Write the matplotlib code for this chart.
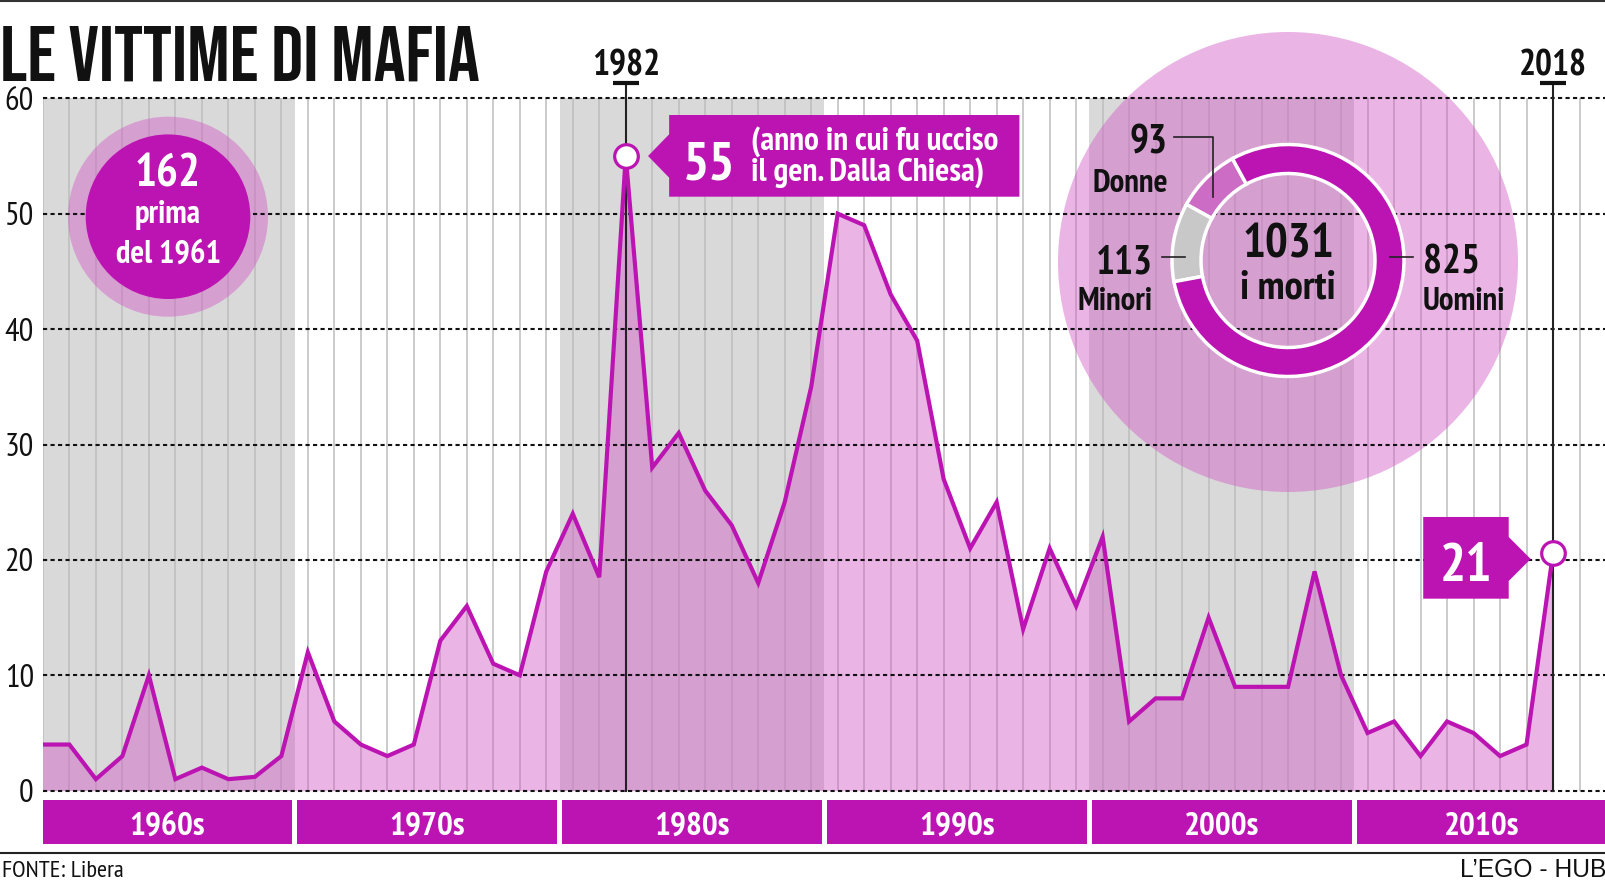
import numpy as np
import matplotlib
matplotlib.use('Agg')
import matplotlib.pyplot as plt
from matplotlib import font_manager
from matplotlib.font_manager import FontProperties
from matplotlib.textpath import TextPath
from matplotlib.patches import Circle, Polygon
from matplotlib.lines import Line2D

# vittime per anno, dal primo anno al 2018
vittime = [4, 4, 1, 3, 10, 1, 2, 1, 1.2, 3,
           12, 6, 4, 3, 4, 13, 16, 11, 10, 19,
           24, 18.5, 55, 28, 31, 26, 23, 18, 25, 35,
           50, 49, 43, 39, 27, 21, 25, 14, 21, 16,
           22, 6, 8, 8, 15, 9, 9, 9, 19, 10,
           5, 6, 3, 6, 5, 3, 4, 20.6]
decenni = ['1960s', '1970s', '1980s', '1990s', '2000s', '2010s']
anno_picco = '1982'
anno_ultimo = '2018'
nota_picco = ['(anno in cui fu ucciso', 'il gen. Dalla Chiesa)']
prima_1961 = 162
categorie = ['Donne', 'Minori', 'Uomini']
morti = [93, 113, 825]
titolo = 'LE VITTIME DI MAFIA'

MAG = '#BC14B2'
PINK = '#D159C6'
GRAY = '#D9D9D9'
INK = '#111111'
W, H = 1606, 884

fonts = font_manager.fontManager.ttflist
bold_fams = {f.name for f in fonts if f.weight in (700, 'bold')}
all_fams = {f.name for f in fonts}


def pick(names, pool):
    return next((n for n in names if n in pool), 'DejaVu Sans')


BODY = pick(['PT Sans Narrow', 'Archivo Narrow', 'Roboto Condensed', 'Asap Condensed',
             'Sofia Sans Condensed'], bold_fams)
plt.rcParams['font.family'] = [BODY, 'DejaVu Sans']

# titolo in un carattere stretto e pesante
TITLE = pick(['Bebas Neue', 'Anton', 'Fjalla One', 'Oswald'], all_fams)
ext = TextPath((0, 0), titolo, size=100,
               prop=FontProperties(family=TITLE, weight='bold')).get_extents()
title_fs = 475 * 72 / ext.width

fig = plt.figure(figsize=(W / 100, H / 100), dpi=100)
dst = fig.dpi_scale_trans
rend = fig.canvas.get_renderer()


def P(px, py):
    # pixel (dall'alto) -> pollici
    return (px / 100, (H - py) / 100)


def fit(t, w, others=()):
    # regola la dimensione del testo sulla larghezza letta nel riferimento
    bw = t.get_window_extent(rend).width
    fs = t.get_fontsize() * w / bw
    for o in (t,) + tuple(others):
        o.set_fontsize(fs)
    return fs


x0, y0, y60 = 42.9, 790.7, 98.3
ax = fig.add_axes([x0 / W, (H - y0) / H, (W - x0) / W, (y0 - y60) / H])
ax.set_xlim(0, 59)
ax.set_ylim(0, 60)
x = np.arange(len(vittime))

# fasce grigie dei decenni alterni
for k in (0, 2, 4):
    ax.axvspan(max(10 * k - 0.5, 0), 10 * k + 9.5, color=GRAY, lw=0, zorder=0)
ax.vlines(np.arange(0, 60), 0, 60, color='#bdbdbd', lw=1.1, zorder=1)

ax.fill_between(x, vittime, color=PINK, alpha=0.45, lw=0, zorder=2)

for v in range(0, 61, 10):
    ax.axhline(v, color=INK, lw=1.5, dashes=(2, 1.6), zorder=3, clip_on=False)

i_peak = int(np.argmax(vittime))
i_last = len(vittime) - 1
tr = ax.get_xaxis_transform()
top = 1 + (y60 - 82.7) / (y0 - y60)
anni_t = []
for i, lab in ((i_peak, anno_picco), (i_last, anno_ultimo)):
    ax.plot([i, i], [0, top], transform=tr, color='#222222', lw=1.5,
            clip_on=False, zorder=4)
    ax.plot([i - 0.5, i + 0.5], [top, top], transform=tr, color=INK,
            lw=3, clip_on=False, solid_capstyle='butt', zorder=4)
    anni_t.append(ax.text(i, 1 + (y60 - 75) / (y0 - y60), lab, transform=tr,
                          ha='center', va='baseline', fontsize=27,
                          fontweight='bold', color=INK))
fit(anni_t[0], 68, anni_t[1:])

ax.plot(x, vittime, color=MAG, lw=3, zorder=5, solid_joinstyle='miter')
ax.plot([i_peak, i_last], [vittime[i_peak], vittime[i_last]], 'o', ms=17,
        mfc='white', mec=MAG, mew=2.3, zorder=6, clip_on=False)

tmp = fig.text(0, 0, '60', fontsize=20)
tick_fs = fit(tmp, 29)
tmp.remove()
ax.set_xticks([])
ax.set_yticks(range(0, 61, 10))
ax.tick_params(axis='y', length=0, pad=6.5, labelsize=tick_fs, labelcolor=INK)
for s in ax.spines.values():
    s.set_visible(False)
ax.patch.set_alpha(0)

# cerchio grande dietro la ciambella
ax.add_patch(Circle(P(1288, 262), 2.30, transform=dst, color=PINK, alpha=0.45,
                    lw=0, zorder=2, clip_on=False))

# cerchio "prima del 1961"
ax.add_patch(Circle(P(168, 216.7), 1.00, transform=dst, color=PINK, alpha=0.45,
                    lw=0, zorder=2, clip_on=False))
ax.add_patch(Circle(P(168, 216.7), 0.823, transform=dst, color=MAG,
                    lw=0, zorder=7, clip_on=False))
t = ax.text(*P(168, 186.7), str(prima_1961), transform=dst, ha='center', va='baseline',
            fontsize=33, fontweight='bold', color='white', zorder=8)
fit(t, 66)
t1 = ax.text(*P(168, 222.7), 'prima', transform=dst, ha='center', va='baseline',
             fontsize=23, fontweight='bold', color='white', zorder=8)
t2 = ax.text(*P(168, 262.7), 'del 1961', transform=dst, ha='center', va='baseline',
             fontsize=23, fontweight='bold', color='white', zorder=8)
fit(t2, 105, (t1,))

# riquadri con i valori
px, py = ax.transData.transform((i_peak, vittime[i_peak]))
py = H - py
ax.add_patch(Polygon([P(px + 22.3, py), P(px + 43.4, py - 21.7), P(px + 43.4, py - 41),
                      P(px + 393.7, py - 41), P(px + 393.7, py + 40.7),
                      P(px + 43.4, py + 40.7), P(px + 43.4, py + 21.7)],
                     transform=dst, color=MAG, lw=0, zorder=7, clip_on=False))
t55 = ax.text(*P(px + 57, py + 23.4), f'{vittime[i_peak]:.0f}', transform=dst,
              va='baseline', fontsize=43, fontweight='bold', color='white', zorder=8)
fit(t55, 52.7)
n1 = ax.text(*P(px + 125.5, py - 6.6), nota_picco[0], transform=dst, va='baseline',
             fontsize=21, fontweight='bold', color='white', zorder=8)
n2 = ax.text(*P(px + 125.5, py + 25), nota_picco[1], transform=dst, va='baseline',
             fontsize=21, fontweight='bold', color='white', zorder=8)
fit(n1, 246.8, (n2,))

px, py = ax.transData.transform((i_last, vittime[i_last]))
py = H - py
ax.add_patch(Polygon([P(px - 22.3, py + 6), P(px - 44.3, py - 16), P(px - 44.3, py - 36),
                      P(px - 129.8, py - 36), P(px - 129.8, py + 45.7),
                      P(px - 44.3, py + 45.7), P(px - 44.3, py + 28)],
                     transform=dst, color=MAG, lw=0, zorder=7, clip_on=False))
ax.text(*P(px - 87, py + 27.7), f'{vittime[i_last]:.0f}', transform=dst, ha='center',
        va='baseline', fontsize=t55.get_fontsize(), fontweight='bold', color='white',
        zorder=8)

# barre dei decenni
axb = fig.add_axes([x0 / W, (H - 844) / H, (W - x0) / W, 44 / H])
axb.set_xlim(0, 59)
axb.set_ylim(0, 1)
axb.axis('off')
dec_t = []
for k, lab in enumerate(decenni):
    l = 10 * k - 0.5
    r = 10 * k + 9.5
    l = 0 if l < 0 else l + 0.095
    r = 59 if r > 59 else r - 0.095
    axb.bar((l + r) / 2, 1, width=r - l, color=MAG, lw=0)
    dec_t.append(axb.text((l + r) / 2, 9 / 44, lab, ha='center', va='baseline',
                          fontsize=23, fontweight='bold', color='white'))
fit(dec_t[0], 75.7, dec_t[1:])

# ciambella
R = 120
cx, cy = 1288, 260.5
dax = fig.add_axes([(cx - R) / W, (H - cy - R) / H, 2 * R / W, 2 * R / H])
dax.pie(morti, colors=['#CC6CC4', '#C8C8C8', MAG], startangle=118.6,
        radius=116 / R, wedgeprops=dict(width=29 / R, edgecolor='white', lw=2.5))
dax.set_xlim(-1, 1)
dax.set_ylim(-1, 1)
dax.set_zorder(1)

t = fig.text(cx / W, (H - 258) / H, str(sum(morti)), ha='center', va='baseline',
             fontsize=36, fontweight='bold', color=INK)
fit(t, 92)
t = fig.text(cx / W, (H - 298.3) / H, 'i morti', ha='center', va='baseline',
             fontsize=27, fontweight='bold', color=INK)
fit(t, 95.7)

lab_pos = [(1168, 153.3, 191.7, 'right'), (1153, 273.3, 310, 'right'),
           (1423, 273.3, 310, 'left')]
num_t, cat_t = [], []
for (lx, b1, b2, ha), cat, n in zip(lab_pos, categorie, morti):
    num_t.append(fig.text(lx / W, (H - b1) / H, str(n), ha=ha, va='baseline',
                          fontsize=30, fontweight='bold', color=INK))
    cat_t.append(fig.text(lx / W, (H - b2) / H, cat, ha=ha, va='baseline',
                          fontsize=21, fontweight='bold', color=INK))
fit(num_t[1], 56.7, (num_t[0], num_t[2]))
fit(cat_t[2], 82.6, cat_t[:2])

for xs, ys in (([1174, 1213, 1213], [136.7, 136.7, 196.7]),
               ([1161.7, 1184.8], [256.7, 256.7]),
               ([1390.4, 1413.5], [256.7, 256.7])):
    fig.add_artist(Line2D([v / W for v in xs], [(H - v) / H for v in ys],
                          color='#222222', lw=1.2))

# titolo, righe e fonti
fig.text(0, (H - 81) / H, titolo, fontsize=title_fs, va='baseline', color=INK,
         family=[TITLE, 'DejaVu Sans'], fontweight='bold')
fig.add_artist(Line2D([0, 1], [1 - 1 / H, 1 - 1 / H], color='#333333', lw=1.5))
fig.add_artist(Line2D([0, 1], [(H - 853) / H] * 2, color='#222222', lw=1.5))
t = fig.text(0.001, (H - 877) / H, 'FONTE: Libera', fontsize=16, va='baseline',
             color=INK)
fit(t, 121)
t = fig.text(1, (H - 877) / H, 'L\u2019EGO - HUB', fontsize=17, va='baseline', ha='right',
             color=INK, family=['Liberation Sans', 'DejaVu Sans'])
fit(t, 146)

fig.savefig('out.png', dpi=100, facecolor='white')
